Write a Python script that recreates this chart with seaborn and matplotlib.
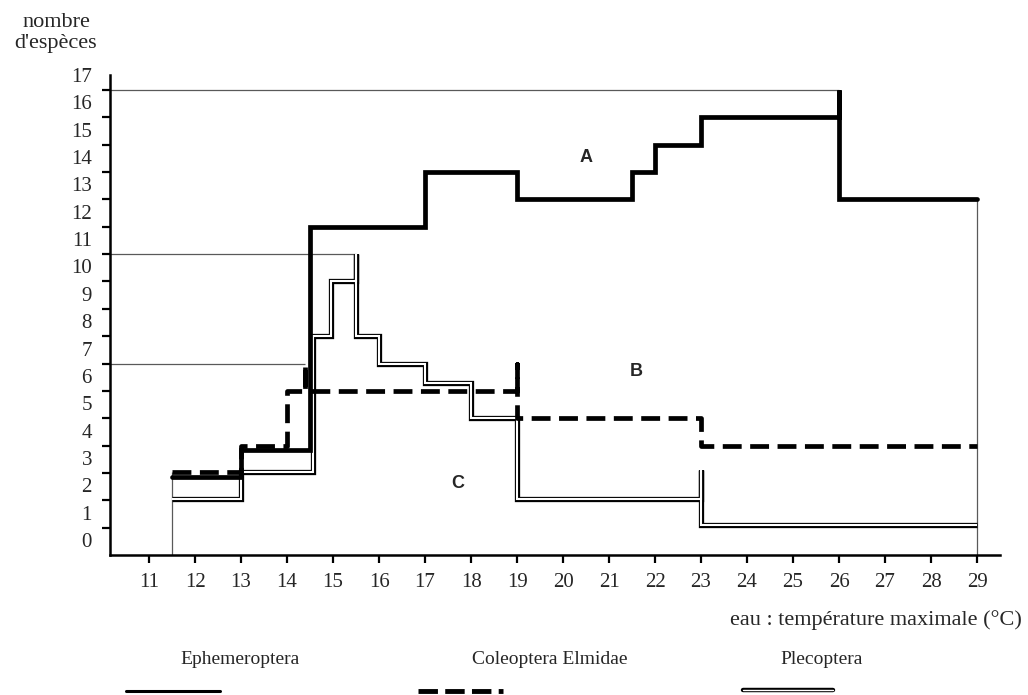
import matplotlib
matplotlib.use("Agg")
import matplotlib.pyplot as plt
from matplotlib.lines import Line2D
import seaborn as sns
import pandas as pd

# step edges (max water temperature, °C) and species counts
ephem_edges = [11.5, 13, 14.5, 17, 19, 21.5, 22, 23, 26, 29]
ephem_counts = [2.85, 3.85, 12, 14, 13, 14, 15, 16, 13]
ephem_spikes = {26: 17}

coleo_edges = [11.5, 13, 14, 19, 23, 29]
coleo_counts = [3.02, 4, 6, 5, 4]
coleo_spikes = {14.4: 7, 19: 7}

pleco_edges = [11.5, 13, 14.57, 14.95, 15.5, 16, 17, 18, 19, 23, 29]
pleco_counts = [2.05, 3.05, 8, 10, 8, 7, 6.3, 5, 2.05, 1.1]
pleco_spikes = {15.5: 11, 23: 3.1}

# maxima marked by thin guide lines
guide_x = [26, 15.5, 14.4]
guide_y = [17, 11, 7]

x_ticks = list(range(11, 30))
y_ticks = list(range(0, 18))
LABEL_OFFSET = 0.55  # y labels sit between the tick marks in the original


def step_path(edges, counts, spikes):
    xs, ys = [], []
    for i, c in enumerate(counts):
        x0, x1 = edges[i], edges[i + 1]
        xs.append(x0); ys.append(c)
        for sx in sorted(spikes):
            if x0 < sx < x1:
                xs += [sx, sx, sx]; ys += [c, spikes[sx], c]
        xs.append(x1); ys.append(c)
        if x1 in spikes and i < len(counts) - 1:
            xs.append(x1); ys.append(spikes[x1])
    return pd.DataFrame({"temp": xs, "n": ys})


ephem = step_path(ephem_edges, ephem_counts, ephem_spikes)
coleo = step_path(coleo_edges, coleo_counts, coleo_spikes)
pleco = step_path(pleco_edges, pleco_counts, pleco_spikes)

sns.set_style("ticks")
plt.rcParams["font.family"] = ["Liberation Serif", "DejaVu Serif"]

fig = plt.figure(figsize=(10.28, 6.95), dpi=100)
ax = fig.add_axes([110 / 1028, 1 - 555 / 695, 890 / 1028, 480 / 695])
xmin, xmax = 10.15, 29.5
ax.set_xlim(xmin, xmax)
ax.set_ylim(0, 17.47)

# thin guide lines for the maxima and closing verticals
ax.hlines(guide_y, xmin, guide_x, color="0.35", lw=0.9, zorder=1)
ax.vlines([ephem_edges[0]], 0, coleo_counts[0], color="0.35", lw=0.9, zorder=1)
ax.vlines([ephem_edges[-1]], 0, ephem_counts[-1], color="0.35", lw=0.9, zorder=1)

# Plecoptera: double line (black with white core)
sns.lineplot(data=pleco, x="temp", y="n", sort=False, estimator=None, ax=ax,
             color="black", lw=3.8, solid_joinstyle="miter", solid_capstyle="butt", zorder=2)
sns.lineplot(data=pleco, x="temp", y="n", sort=False, estimator=None, ax=ax,
             color="white", lw=1.5, solid_joinstyle="miter", solid_capstyle="butt", zorder=2.1)
# Coleoptera Elmidae: thick dashed
sns.lineplot(data=coleo, x="temp", y="n", sort=False, estimator=None, ax=ax,
             color="black", lw=3.4, dashes=False, zorder=3)
for line in ax.lines[-1:]:
    line.set_dashes((4, 1.8))
    line.set_dash_capstyle("butt")
# Ephemeroptera: thick solid
sns.lineplot(data=ephem, x="temp", y="n", sort=False, estimator=None, ax=ax,
             color="black", lw=3.4, solid_joinstyle="miter", zorder=4)

for name, x, y in [("A", 20.5, 14.55), ("B", 21.6, 6.7), ("C", 17.7, 2.6)]:
    ax.text(x, y, name, family="Liberation Sans", weight="bold", fontsize=13,
            ha="center", va="center")

sns.despine(ax=ax)
for side in ["left", "bottom"]:
    ax.spines[side].set_linewidth(1.8)
    ax.spines[side].set_color("black")

ax.set_xticks(x_ticks)
ax.set_xticklabels([str(t) for t in x_ticks])
ax.tick_params(axis="x", length=6, width=1.6, direction="out", pad=7,
               labelsize=15, color="black")
ax.set_yticks([t + LABEL_OFFSET for t in y_ticks])
ax.set_yticklabels([str(t) for t in y_ticks])
ax.set_yticks(y_ticks[1:], minor=True)
ax.tick_params(axis="y", which="major", length=0, pad=13, labelsize=15)
ax.tick_params(axis="y", which="minor", length=6, width=1.6, direction="out", color="black")
ax.set_xlabel("")
ax.set_ylabel("")

fig.text(56 / 1028, 1 - 33 / 695, "nombre\nd'espèces", ha="center", va="center",
         fontsize=16, linespacing=1.15)
fig.text(1022 / 1028, 1 - 620 / 695, "eau : température maximale (°C)", ha="right",
         va="center", fontsize=16)

# legend drawn like the original: label above the end of a line sample
ly = 1 - 691 / 695
ty = 1 - 660 / 695
fig.add_artist(Line2D([126 / 1028, 220 / 1028], [ly, ly], color="black", lw=2.2))
fig.text(240 / 1028, ty, "Ephemeroptera", ha="center", va="center", fontsize=14)
fig.add_artist(Line2D([418 / 1028, 503 / 1028], [ly, ly], color="black", lw=3.5,
                      dashes=(4, 1.5), dash_capstyle="butt"))
fig.text(550 / 1028, ty, "Coleoptera Elmidae", ha="center", va="center", fontsize=14)
fig.add_artist(Line2D([743 / 1028, 833 / 1028], [ly + 0.002, ly + 0.002], color="black", lw=3.2))
fig.add_artist(Line2D([743 / 1028, 833 / 1028], [ly + 0.002, ly + 0.002], color="white", lw=1.0))
fig.text(822 / 1028, ty, "Plecoptera", ha="center", va="center", fontsize=14)

fig.savefig("out.png", dpi=100)
